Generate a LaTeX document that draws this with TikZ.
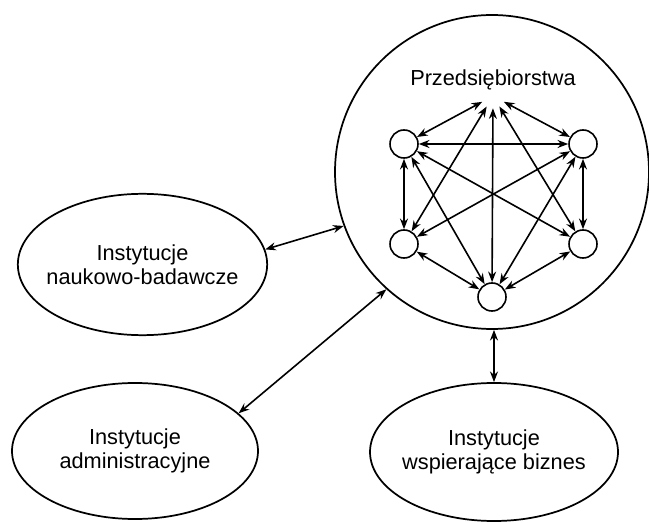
\documentclass[tikz,border=0pt]{standalone}
\usepackage{fontspec}
\setmainfont{Liberation Sans}
\usetikzlibrary{arrows.meta,shapes.geometric}

\begin{document}
\begin{tikzpicture}[x=0.75pt,y=-0.75pt,
  firma/.style={circle,draw,line width=1.2pt,minimum size=21pt,inner sep=0pt},
  inst/.style={ellipse,draw,line width=1.3pt,align=center,inner xsep=-7pt,inner ysep=0pt,font=\fontsize{16.3}{18}\selectfont},
  link/.style={{Stealth[length=8pt,width=6pt]}-{Stealth[length=8pt,width=6pt]},line width=1.2pt}]
\useasboundingbox (0,0) rectangle (649,523);
\node [circle,draw,line width=1.3pt,minimum size=235.5pt] (rynek) at (492,172) {};
\node [font=\fontsize{16.3}{18}\selectfont] (nazwa) at (493,80) {Przedsiębiorstwa};
\node [circle,inner sep=0pt,minimum size=18pt] (hub) at (493,96) {};
  \foreach \nazwa/\x/\y in {lg/404/144,pg/583/144,ld/404/244,pd/583/244,dol/492/297}
  {  \node [firma] (\nazwa) at (\x,\y) {};
     \draw [link] (hub) -- (\nazwa);}
  \foreach \a/\b in {lg/pg,lg/ld,pg/pd,lg/pd,pg/ld,lg/dol,pg/dol,ld/dol,pd/dol}
     \draw [link] (\a) -- (\b);
\node [inst,minimum width=187pt,minimum height=106pt] (nauka) at (142.5,264.5) {Instytucje\\naukowo-badawcze};
\node [inst,minimum width=184.5pt,minimum height=102pt] (admin) at (135,451) {Instytucje\\administracyjne};
\node [inst,minimum width=186pt,minimum height=103.5pt] (wsp) at (494,452) {Instytucje\\wspierające biznes};
\draw [link] (nauka.7) -- (rynek.200);
\draw [link] (admin.20) -- (rynek.228);
\draw [link] (wsp.north |- rynek.south) -- (wsp.north);
\end{tikzpicture}
\end{document}
